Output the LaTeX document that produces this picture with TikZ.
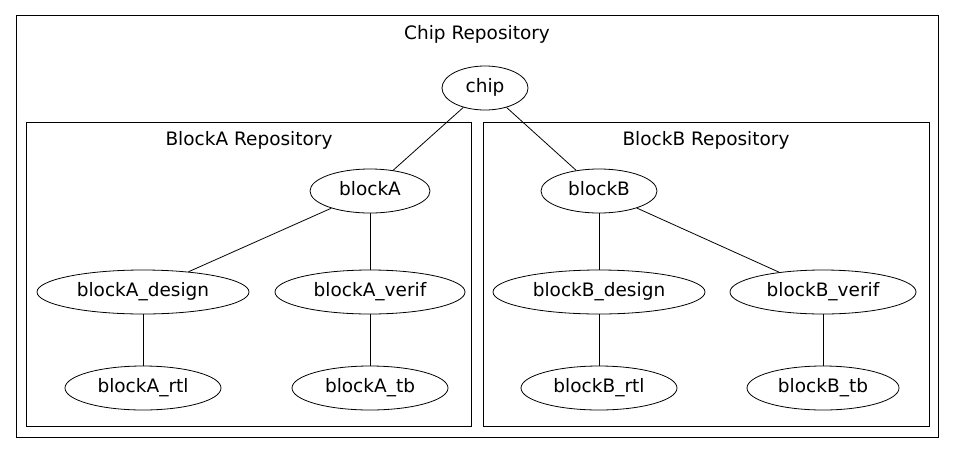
\documentclass[tikz,border=0pt]{standalone}
\usepackage{fontspec}
\setmainfont{DejaVu Sans}
\usetikzlibrary{shapes.geometric}
\begin{document}
\begin{tikzpicture}[x=1pt,y=-1pt,
  nd/.style={ellipse,draw,line width=0.8pt,inner sep=0pt,minimum height=44pt,text height=14pt,text depth=4.4pt,font=\fontsize{18.5}{20}\selectfont},
  cl/.style={draw,line width=0.8pt},
  lbl/.style={inner sep=0pt,text height=14pt,text depth=4.4pt,font=\fontsize{18.5}{20}\selectfont},
  ed/.style={line width=0.8pt}]
\useasboundingbox (0,0) rectangle (955,453);
\fill[white] (0,0) rectangle (955,453);
\draw[cl] (16,15) rectangle (938,437);
\node[lbl] (t0) at (477,34.5) {Chip Repository};
\draw[cl] (26,122) rectangle (471,426);
\node[lbl] (t1) at (249,140.5) {BlockA Repository};
\draw[cl] (483,122) rectangle (929,426);
\node[lbl] (t2) at (706,140.5) {BlockB Repository};

\node[nd,minimum width=86pt] (chip) at (485,88) {chip};
\node[nd,minimum width=120pt] (blockA) at (370,191) {blockA};
\node[nd,minimum width=212pt] (blockA_design) at (143,292) {blockA\_design};
\node[nd,minimum width=190pt] (blockA_verif) at (370,292) {blockA\_verif};
\node[nd,minimum width=156pt] (blockA_rtl) at (143,388) {blockA\_rtl};
\node[nd,minimum width=156pt] (blockA_tb) at (370,388) {blockA\_tb};
\node[nd,minimum width=116pt] (blockB) at (599,191) {blockB};
\node[nd,minimum width=212pt] (blockB_design) at (599,292) {blockB\_design};
\node[nd,minimum width=186pt] (blockB_verif) at (823,292) {blockB\_verif};
\node[nd,minimum width=156pt] (blockB_rtl) at (599,388) {blockB\_rtl};
\node[nd,minimum width=152pt] (blockB_tb) at (823,388) {blockB\_tb};

\draw[ed] (chip) -- (blockA);
\draw[ed] (chip) -- (blockB);
\draw[ed] (blockA) -- (blockA_design);
\draw[ed] (blockA) -- (blockA_verif);
\draw[ed] (blockA_design) -- (blockA_rtl);
\draw[ed] (blockA_verif) -- (blockA_tb);
\draw[ed] (blockB) -- (blockB_design);
\draw[ed] (blockB) -- (blockB_verif);
\draw[ed] (blockB_design) -- (blockB_rtl);
\draw[ed] (blockB_verif) -- (blockB_tb);
\end{tikzpicture}
\end{document}
